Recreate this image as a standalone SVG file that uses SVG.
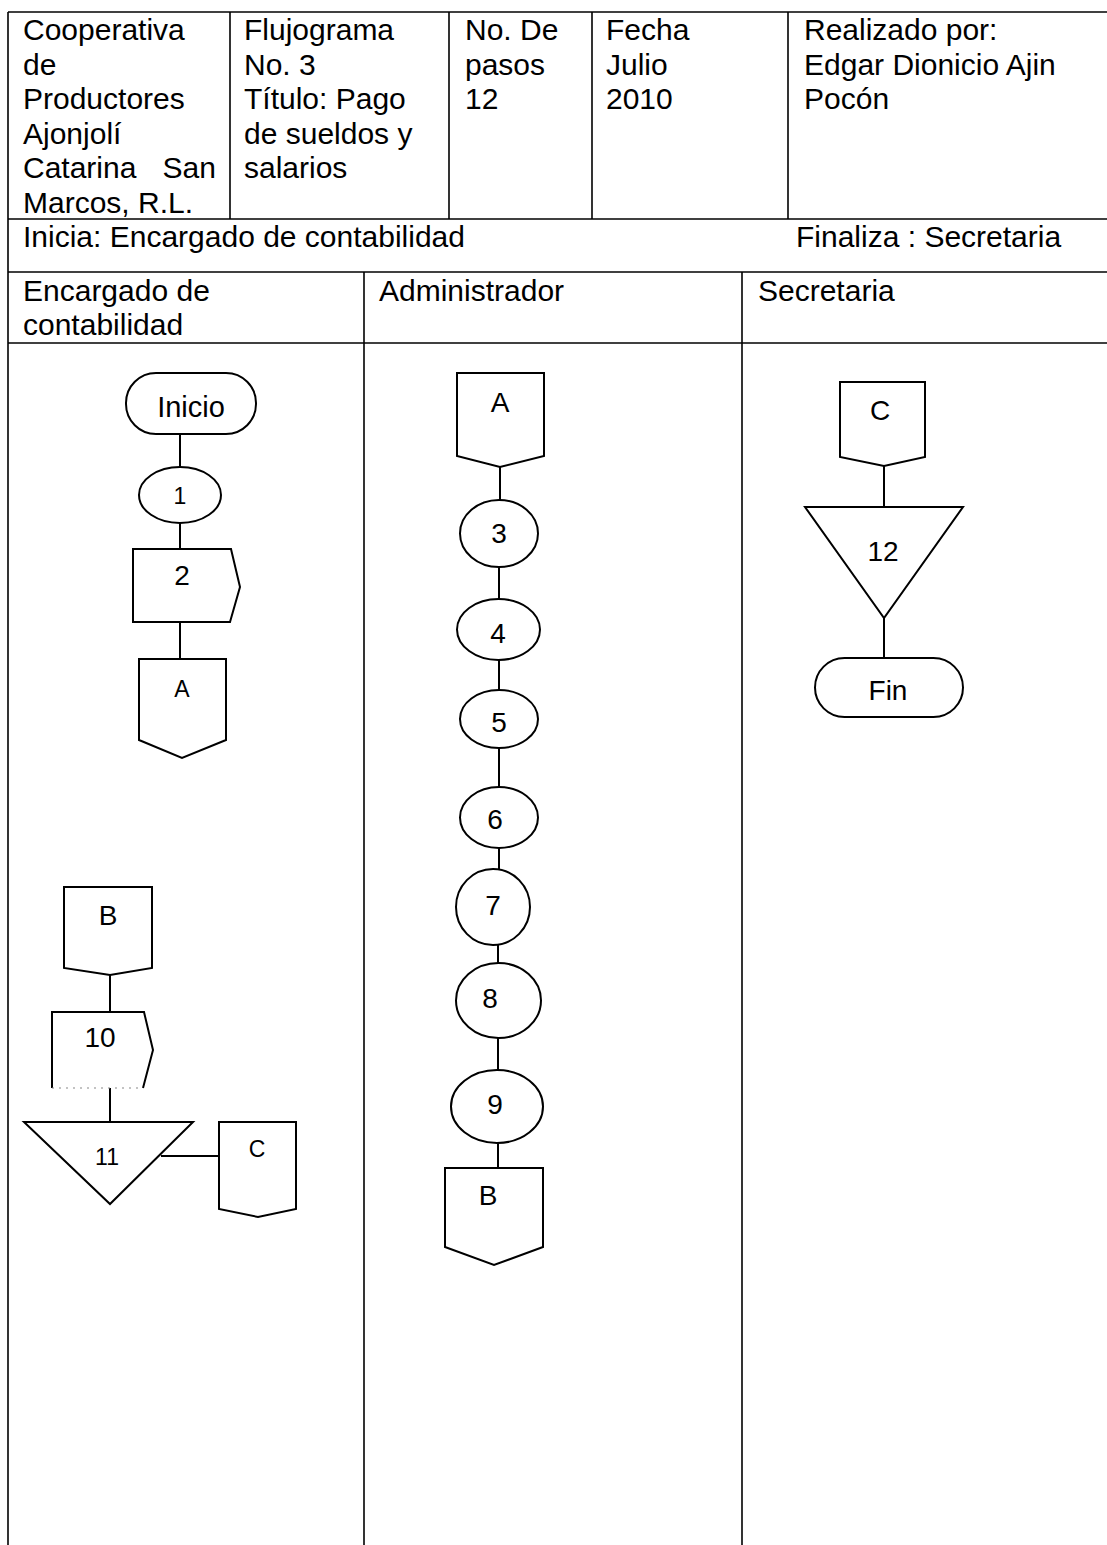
<svg xmlns="http://www.w3.org/2000/svg" width="1107" height="1545" viewBox="0 0 1107 1545">
<style>
.t{font-family:"Liberation Sans",Arial,sans-serif;font-size:30px;fill:#000}
.l{font-family:"Liberation Sans",Arial,sans-serif;font-size:28px;fill:#000;text-anchor:middle}
.s{font-size:23px}
.g{stroke:#000;stroke-width:1.6;fill:none}
.sh{stroke:#000;stroke-width:2;fill:#fff}
.c{stroke:#000;stroke-width:2;fill:none}
</style>
<rect width="1107" height="1545" fill="#fff"/>
<g id="table">
<line class="g" x1="8" y1="12" x2="1107" y2="12"/>
<line class="g" x1="8" y1="12" x2="8" y2="1545"/>
<line class="g" x1="230" y1="12" x2="230" y2="219"/>
<line class="g" x1="449" y1="12" x2="449" y2="219"/>
<line class="g" x1="592" y1="12" x2="592" y2="219"/>
<line class="g" x1="788" y1="12" x2="788" y2="219"/>
<line class="g" x1="8" y1="219" x2="1107" y2="219"/>
<line class="g" x1="8" y1="272" x2="1107" y2="272"/>
<line class="g" x1="8" y1="343" x2="1107" y2="343"/>
<line class="g" x1="364" y1="272" x2="364" y2="1545"/>
<line class="g" x1="742" y1="272" x2="742" y2="1545"/>
</g>
<g id="header-text">
<text class="t" x="23" y="40">Cooperativa</text>
<text class="t" x="23" y="74.5">de</text>
<text class="t" x="23" y="109">Productores</text>
<text class="t" x="23" y="143.5">Ajonjolí</text>
<text class="t" x="23" y="178">Catarina</text>
<text class="t" x="216" y="178" text-anchor="end">San</text>
<text class="t" x="23" y="212.5">Marcos, R.L.</text>
<text class="t" x="244" y="40">Flujograma</text>
<text class="t" x="244" y="74.5">No. 3</text>
<text class="t" x="244" y="109">Título: Pago</text>
<text class="t" x="244" y="143.5">de sueldos y</text>
<text class="t" x="244" y="178">salarios</text>
<text class="t" x="465" y="40">No. De</text>
<text class="t" x="465" y="74.5">pasos</text>
<text class="t" x="465" y="109">12</text>
<text class="t" x="606" y="40">Fecha</text>
<text class="t" x="606" y="74.5">Julio</text>
<text class="t" x="606" y="109">2010</text>
<text class="t" x="804" y="40">Realizado por:</text>
<text class="t" x="804" y="74.5">Edgar Dionicio Ajin</text>
<text class="t" x="804" y="109">Pocón</text>
<text class="t" x="23" y="247">Inicia: Encargado de contabilidad</text>
<text class="t" x="796" y="247">Finaliza : Secretaria</text>
<text class="t" x="23" y="301">Encargado de</text>
<text class="t" x="23" y="335">contabilidad</text>
<text class="t" x="379" y="301">Administrador</text>
<text class="t" x="758" y="301">Secretaria</text>
</g>
<g id="connectors">
<line class="c" x1="180" y1="434" x2="180" y2="467"/>
<line class="c" x1="180" y1="523" x2="180" y2="549"/>
<line class="c" x1="180" y1="622" x2="180" y2="659"/>
<line class="c" x1="110" y1="975" x2="110" y2="1012"/>
<line class="c" x1="110" y1="1088" x2="110" y2="1122"/>
<line class="c" x1="161" y1="1156" x2="219" y2="1156"/>
<line class="c" x1="500" y1="467" x2="500" y2="500"/>
<line class="c" x1="499" y1="567" x2="499" y2="599"/>
<line class="c" x1="499" y1="660" x2="499" y2="690"/>
<line class="c" x1="499" y1="748" x2="499" y2="787"/>
<line class="c" x1="499" y1="848" x2="499" y2="869"/>
<line class="c" x1="498" y1="945" x2="498" y2="963"/>
<line class="c" x1="498" y1="1038" x2="498" y2="1070"/>
<line class="c" x1="498" y1="1143" x2="498" y2="1168"/>
<line class="c" x1="884" y1="466" x2="884" y2="507"/>
<line class="c" x1="884" y1="618" x2="884" y2="658"/>
</g>
<g id="inicio"><rect class="sh" x="126" y="373" width="130" height="61" rx="30"/><text class="l" x="191" y="417" style="font-size:29px">Inicio</text></g>
<g id="step1"><ellipse class="sh" cx="180" cy="495" rx="41" ry="28"/><text class="l s" x="180" y="504">1</text></g>
<g id="step2"><path class="sh" d="M133 549 H231 L240 587 L230 622 H133 Z"/><text class="l" x="182" y="585">2</text></g>
<g id="connA-out"><path class="sh" d="M139 659 H226 V740 L182 758 L139 740 Z"/><text class="l s" x="182" y="697">A</text></g>
<g id="connB-in"><path class="sh" d="M64 887 H152 V968 L110 975 L64 968 Z"/><text class="l" x="108" y="925">B</text></g>
<g id="step10"><path class="sh" d="M52 1088 V1012 H144 L153 1050 L143 1088"/><line x1="52" y1="1088" x2="143" y2="1088" stroke="#888" stroke-width="1.2" stroke-dasharray="2 5"/><text class="l" x="100" y="1047">10</text></g>
<g id="step11"><path class="sh" d="M24 1122 H193 L110 1204 Z"/><text class="l s" x="107" y="1165">11</text></g>
<g id="connC-out"><path class="sh" d="M219 1122 H296 V1209 L258 1217 L219 1209 Z"/><text class="l s" x="257" y="1157">C</text></g>
<g id="connA-in"><path class="sh" d="M457 373 H544 V456 L500 467 L457 456 Z"/><text class="l" x="500" y="412">A</text></g>
<g id="step3"><ellipse class="sh" cx="499" cy="533.5" rx="39" ry="33.5"/><text class="l" x="499" y="543">3</text></g>
<g id="step4"><ellipse class="sh" cx="498.5" cy="629.5" rx="41.5" ry="30.5"/><text class="l" x="498" y="643">4</text></g>
<g id="step5"><ellipse class="sh" cx="499" cy="719" rx="39" ry="29"/><text class="l" x="499" y="732">5</text></g>
<g id="step6"><ellipse class="sh" cx="499" cy="817.5" rx="39" ry="30.5"/><text class="l" x="495" y="829">6</text></g>
<g id="step7"><ellipse class="sh" cx="493" cy="907" rx="37" ry="38"/><text class="l" x="493" y="915">7</text></g>
<g id="step8"><ellipse class="sh" cx="498.5" cy="1000.5" rx="42.5" ry="37.5"/><text class="l" x="490" y="1008">8</text></g>
<g id="step9"><ellipse class="sh" cx="497" cy="1106.5" rx="46" ry="36.5"/><text class="l" x="495" y="1114">9</text></g>
<g id="connB-out"><path class="sh" d="M445 1168 H543 V1247 L494 1265 L445 1247 Z"/><text class="l" x="488" y="1205">B</text></g>
<g id="connC-in"><path class="sh" d="M840 382 H925 V457 L884 466 L840 457 Z"/><text class="l" x="880" y="420">C</text></g>
<g id="step12"><path class="sh" d="M805 507 H963 L884 618 Z"/><text class="l" x="883" y="561">12</text></g>
<g id="fin"><rect class="sh" x="815" y="658" width="148" height="59" rx="29.5"/><text class="l" x="888" y="700">Fin</text></g>
</svg>
